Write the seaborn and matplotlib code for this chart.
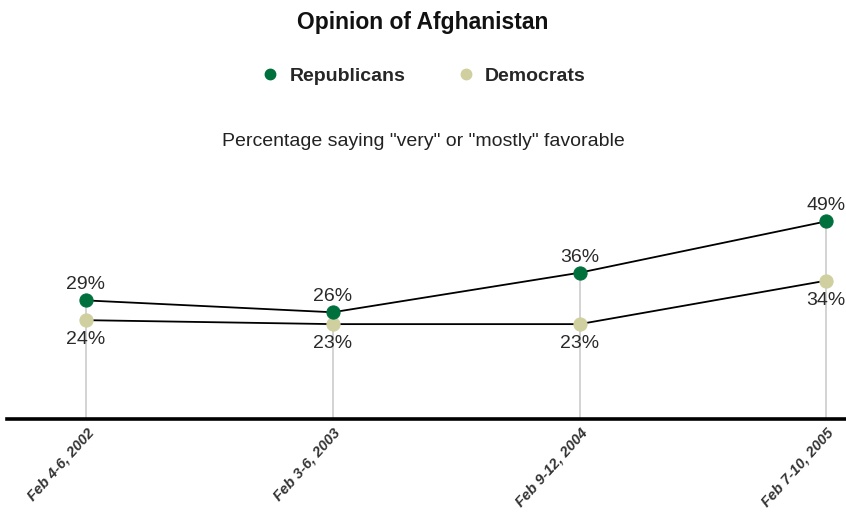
import numpy as np
import pandas as pd
import matplotlib.pyplot as plt
import seaborn as sns
from matplotlib.lines import Line2D

dates = ['Feb 4-6, 2002', 'Feb 3-6, 2003', 'Feb 9-12, 2004', 'Feb 7-10, 2005']
republicans = [29, 26, 36, 49]
democrats = [24, 23, 23, 34]

rep_color = '#00703c'
dem_color = '#cfcf9f'

sns.set_style('white')
plt.rcParams['font.family'] = ['Liberation Sans', 'DejaVu Sans']

df = pd.DataFrame({'x': range(len(dates)), 'rep': republicans, 'dem': democrats})

fig = plt.figure(figsize=(8.46, 5.17), dpi=100)
ax = fig.add_axes([0.0083, 0.1896, 0.9917, 0.4816])

# grey drop lines from the top point of each poll down to the baseline
ax.vlines(df['x'], -1, df[['rep', 'dem']].max(axis=1), color='#cccccc', lw=1.2, zorder=1)

sns.lineplot(data=df, x='x', y='dem', ax=ax, color='black', lw=1.3,
             marker='o', markersize=9.5, markerfacecolor=dem_color,
             markeredgecolor=dem_color, zorder=3)
sns.lineplot(data=df, x='x', y='rep', ax=ax, color='black', lw=1.3,
             marker='o', markersize=9.5, markerfacecolor=rep_color,
             markeredgecolor=rep_color, zorder=3)

for i, v in enumerate(republicans):
    ax.annotate(f'{v}%', (i, v), xytext=(0, 5), textcoords='offset points',
                ha='center', va='bottom', fontsize=14, color='#2a2a2a')
for i, v in enumerate(democrats):
    ax.annotate(f'{v}%', (i, v), xytext=(0, -8), textcoords='offset points',
                ha='center', va='top', fontsize=14, color='#2a2a2a')

ax.set_xlim(-0.32, 3.08)
ax.set_ylim(-1, 62)
ax.set_xticks(range(len(dates)))
ax.set_xticklabels(dates, rotation=48, ha='right', rotation_mode='anchor',
                   fontsize=10.5, fontstyle='italic', fontweight='bold', color='#333333')
ax.set_yticks([])
ax.set_xlabel('')
ax.set_ylabel('')
for s in ['top', 'left', 'right']:
    ax.spines[s].set_visible(False)
ax.spines['bottom'].set_linewidth(2.6)
ax.spines['bottom'].set_color('black')
ax.tick_params(axis='x', direction='in', length=6, width=1, color='black', pad=5)

fig.text(0.5, 0.957, 'Opinion of Afghanistan', ha='center', va='center',
         fontsize=16.5, fontweight='bold', color='#111111')
fig.text(0.5, 0.727, 'Percentage saying "very" or "mostly" favorable', ha='center',
         va='center', fontsize=14, color='#222222')

handles = [Line2D([], [], ls='', marker='o', markersize=7.5, color=rep_color),
           Line2D([], [], ls='', marker='o', markersize=7.5, color=dem_color)]
leg = fig.legend(handles, ['Republicans', 'Democrats'], loc='center',
                 bbox_to_anchor=(0.5, 0.853), ncol=2, frameon=False,
                 handletextpad=0.5, columnspacing=2.6, handlelength=1,
                 prop={'weight': 'bold', 'size': 14})

fig.savefig('out.png', dpi=100)
